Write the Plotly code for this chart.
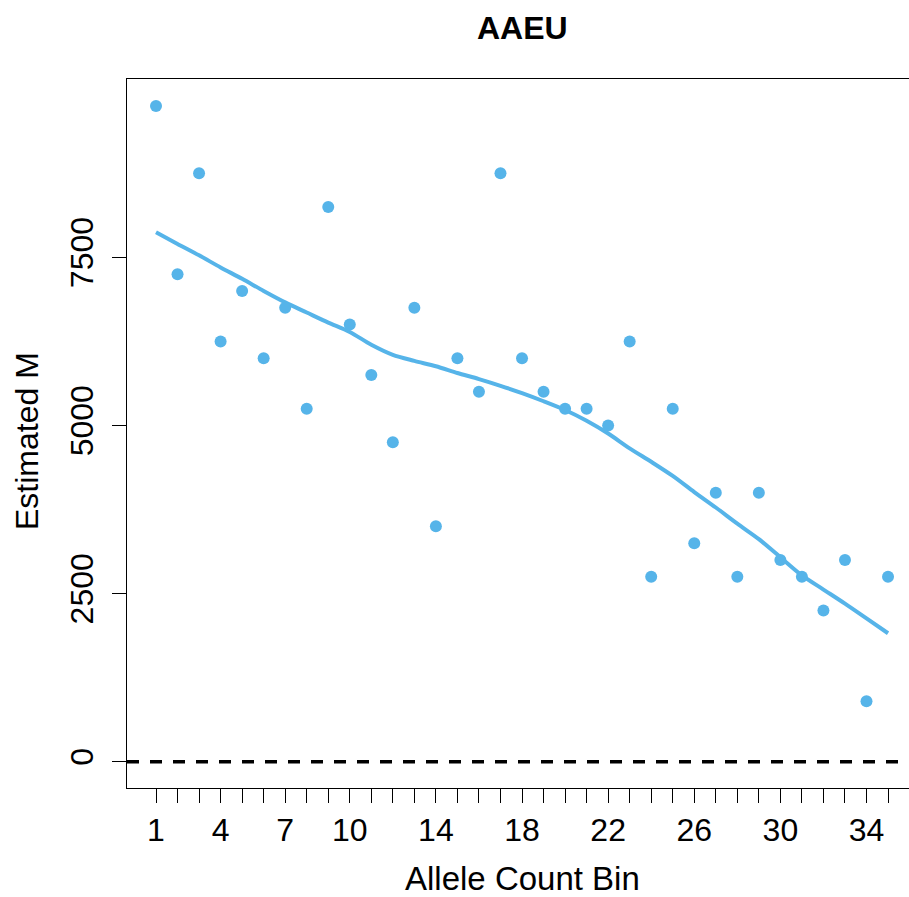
import plotly.graph_objects as go

# Allele count bins and the estimated M for each bin
bins = list(range(1, 36))
est_m = [9750, 7250, 8750, 6250, 7000, 6000, 6750, 5250, 8250, 6500,
         5750, 4750, 6750, 3500, 6000, 5500, 8750, 6000, 5500, 5250,
         5250, 5000, 6250, 2750, 5250, 3250, 4000, 2750, 4000, 3000,
         2750, 2250, 3000, 900, 2750]

# Smoothed (loess) trend evaluated at each bin
smooth_m = [7872, 7700, 7530, 7350, 7180, 7000, 6830, 6680, 6530, 6390,
            6200, 6050, 5960, 5880, 5780, 5690, 5590, 5480, 5360, 5230,
            5070, 4880, 4660, 4460, 4250, 4010, 3780, 3540, 3310, 3040,
            2770, 2560, 2350, 2130, 1910]

x_labels = [1, 4, 7, 10, 14, 18, 22, 26, 30, 34]
y_ticks = [0, 2500, 5000, 7500]

X_RANGE = [-0.347, 35.974]
Y_RANGE = [-391, 10152]

BLUE = "#56B4E9"
FONT = "Liberation Sans, Arial, sans-serif"

# horizontal centre of the data region (R centres titles on it)
x_mid = (18 - X_RANGE[0]) / (X_RANGE[1] - X_RANGE[0])

fig = go.Figure()

# reference line at zero
fig.add_shape(type="line", xref="paper", yref="y", x0=0, x1=1, y0=0, y1=0,
              line=dict(color="black", width=3.5, dash="12px,11px"))

fig.add_trace(go.Scatter(x=bins, y=smooth_m, mode="lines",
                         line=dict(color=BLUE, width=4, shape="spline", smoothing=0.8),
                         hoverinfo="skip"))
fig.add_trace(go.Scatter(x=bins, y=est_m, mode="markers",
                         marker=dict(color=BLUE, size=12, line=dict(width=0))))

fig.update_layout(
    width=909, height=897,
    margin=dict(l=127, r=0, t=79, b=109),
    plot_bgcolor="white", paper_bgcolor="white",
    showlegend=False,
    font=dict(family=FONT, size=32, color="black"),
)

fig.update_xaxes(
    range=X_RANGE,
    tickmode="array", tickvals=bins,
    ticktext=[str(b) if b in x_labels else "" for b in bins],
    ticks="outside", ticklen=14, tickwidth=1, tickcolor="black",
    showline=True, linecolor="black", linewidth=1, mirror=True,
    showgrid=False, zeroline=False,
    tickfont=dict(size=32),
)
fig.update_yaxes(
    range=Y_RANGE,
    tickmode="array", tickvals=y_ticks,
    ticktext=[str(v) for v in y_ticks],
    tickangle=-90,
    ticks="outside", ticklen=14, tickwidth=1, tickcolor="black",
    showline=True, linecolor="black", linewidth=1, mirror=False,
    showgrid=False, zeroline=False,
    tickfont=dict(size=32),
    ticklabelstandoff=6,
)

fig.add_annotation(text="<b>AAEU</b>", xref="paper", yref="paper", x=x_mid, y=1.0719,
                   xanchor="center", yanchor="middle", showarrow=False,
                   font=dict(size=32, family=FONT, color="black"))
fig.add_annotation(text="Allele Count Bin", xref="paper", yref="paper", x=x_mid, y=-0.128,
                   xanchor="center", yanchor="middle", showarrow=False,
                   font=dict(size=33, family=FONT, color="black"))
fig.add_annotation(text="Estimated M", xref="paper", yref="paper", x=-0.1279, y=0.4894,
                   xanchor="center", yanchor="middle", textangle=-90, showarrow=False,
                   font=dict(size=32, family=FONT, color="black"))

fig.write_html("out.html")
